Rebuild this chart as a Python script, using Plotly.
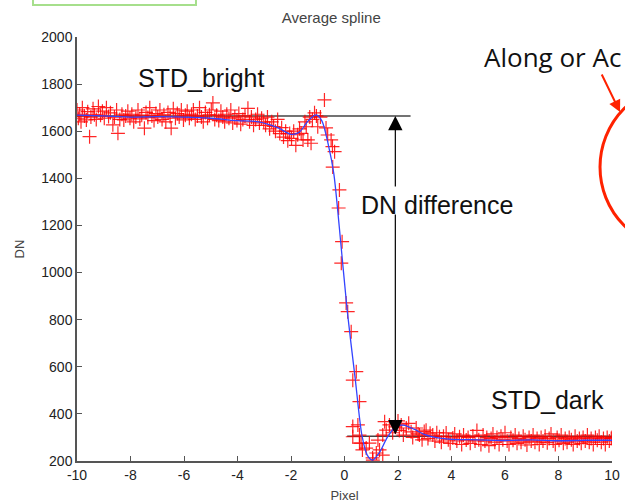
import plotly.graph_objects as go

# ---- data ----
pts_x = [-10.0, -9.95, -9.9, -9.85, -9.8, -9.72, -9.65, -9.6, -9.53, -9.48, -9.4, -9.35, -9.28, -9.2, -9.12, -9.05,
         -8.98, -8.9, -8.82, -8.75, -8.66, -8.6, -8.52, -8.47, -8.4, -8.32, -8.25, -8.18, -8.1, -8.02, -7.95, -7.88,
         -7.8, -7.72, -7.65, -7.58, -7.48, -7.42, -7.35, -7.28, -7.2, -7.12, -7.05, -6.98, -6.9, -6.82, -6.75, -6.68,
         -6.6, -6.52, -6.48, -6.4, -6.32, -6.25, -6.18, -6.1, -6.02, -5.95, -5.88, -5.8, -5.72, -5.65, -5.58, -5.5,
         -5.42, -5.35, -5.28, -5.2, -5.12, -5.05, -4.98, -4.92, -4.85, -4.78, -4.7, -4.62, -4.55, -4.48, -4.4, -4.32,
         -4.25, -4.18, -4.1, -4.02, -3.95, -3.88, -3.8, -3.72, -3.61, -3.55, -3.48, -3.4, -3.32, -3.25, -3.18, -3.1,
         -3.02, -2.95, -2.88, -2.8, -2.72, -2.65, -2.58, -2.5, -2.42, -2.35, -2.28, -2.2, -2.12, -2.05, -1.98, -1.9,
         -1.82, -1.75, -1.68, -1.62, -1.55, -1.48, -1.43, -1.37, -1.3, -1.25, -1.2, -1.12, -1.05, -1.0, -0.9, -0.75,
         -0.69, -0.63, -0.5, -0.45, -0.37, -0.44, -0.19, -0.22, -0.09, -0.12, 0.06, 0.12, 0.25, 0.44, 0.31, 0.56,
         0.5, 0.31, 0.31, 0.56, 0.62, 0.56, 0.67, 0.81, 0.93, 1.05, 1.06, 1.19, 1.31, 1.25, 1.43, 1.43, 1.5, 1.56,
         1.68, 1.8, 1.9, 2.0, 2.05, 2.12, 2.2, 2.31, 2.4, 2.49, 2.55, 2.68, 2.75, 2.8, 2.9, 2.98, 3.05, 3.12, 3.2,
         3.3, 3.38, 3.45, 3.55, 3.62, 3.7, 3.8, 3.88, 3.95, 4.05, 4.12, 4.2, 4.3, 4.38, 4.45, 4.55, 4.62, 4.7, 4.8,
         4.88, 4.95, 5.02, 5.1, 5.18, 5.25, 5.32, 5.4, 5.48, 5.55, 5.62, 5.7, 5.78, 5.85, 5.92, 6.0, 6.08, 6.15,
         6.22, 6.3, 6.38, 6.45, 6.52, 6.6, 6.68, 6.75, 6.82, 6.9, 6.98, 7.05, 7.12, 7.2, 7.28, 7.35, 7.42, 7.5,
         7.58, 7.65, 7.72, 7.8, 7.88, 7.95, 8.02, 8.1, 8.18, 8.25, 8.32, 8.4, 8.48, 8.55, 8.62, 8.7, 8.78, 8.85,
         8.92, 9.0, 9.08, 9.15, 9.22, 9.3, 9.38, 9.45, 9.52, 9.6, 9.68, 9.75, 9.82, 9.9, 9.97, 10.0]
pts_y = [1690, 1655, 1672, 1640, 1700, 1665, 1648, 1683, 1577, 1660, 1695, 1670, 1650, 1705, 1668, 1685,
         1655, 1700, 1662, 1678, 1627, 1660, 1690, 1591, 1650, 1672, 1648, 1665, 1685, 1655, 1672, 1640,
         1660, 1690, 1652, 1668, 1613, 1680, 1658, 1700, 1665, 1645, 1675, 1660, 1690, 1650, 1670, 1640,
         1680, 1662, 1613, 1695, 1655, 1675, 1660, 1690, 1648, 1668, 1685, 1655, 1672, 1690, 1650, 1665,
         1700, 1660, 1640, 1680, 1655, 1670, 1690, 1720, 1650, 1668, 1645, 1685, 1660, 1640, 1672, 1655,
         1690, 1635, 1660, 1645, 1675, 1630, 1650, 1665, 1697, 1640, 1660, 1625, 1650, 1672, 1635, 1655,
         1640, 1625, 1660, 1610, 1640, 1620, 1600, 1650, 1590, 1615, 1575, 1600, 1560, 1590, 1570, 1600,
         1540, 1585, 1610, 1591, 1563, 1640, 1619, 1563, 1660, 1549, 1650, 1678, 1665, 1619, 1660, 1733,
         1614, 1584, 1563, 1535, 1513, 1448, 1351, 1274, 1131, 1040, 871, 834, 749, 579, 543, 452,
         353, 346, 303, 310, 276, 276, 247, 255, 276, 213, 204, 234, 247, 289, 225, 310, 367, 331,
         353, 320, 345, 370, 330, 353, 310, 340, 360, 324, 300, 340, 315, 310, 290, 325, 331, 295, 318,
         310, 285, 320, 303, 280, 305, 319, 290, 275, 298, 315, 285, 303, 270, 310, 289, 300, 275, 306,
         285, 330, 290, 270, 310, 285, 300, 265, 295, 315, 280, 300, 270, 305, 290, 320, 285, 270,
         300, 288, 310, 275, 295, 280, 305, 290, 268, 300, 285, 310, 280, 295, 270, 300, 285, 305,
         278, 295, 315, 285, 270, 300, 288, 310, 275, 295, 280, 300, 290, 270, 305, 285, 295, 275,
         300, 285, 310, 280, 295, 270, 300, 288, 305, 280, 295, 270, 300, 285, 295, 300]

spline_x = [-10, -9, -8, -7, -6, -5, -4, -3.2, -2.5, -2.0, -1.7, -1.35, -1.06, -0.85, -0.6, -0.4, -0.2, 0.1,
            0.4, 0.65, 0.85, 1.05, 1.3, 1.6, 1.9, 2.2, 2.6, 3.0, 3.5, 4, 5, 6, 7, 8, 9, 10]
spline_y = [1668, 1665, 1660, 1662, 1660, 1655, 1645, 1640, 1615, 1587, 1595, 1645, 1669, 1645, 1540, 1420,
            1200, 840, 550, 310, 225, 204, 235, 300, 345, 352, 335, 312, 298, 292, 290, 287, 290, 286, 288, 288]

bright_level = 1665
dark_level = 305
bright_span = [-10, 2.47]
dark_span = [0.1, 10]
arrow_x = 1.9
x_ticks = [-10, -8, -6, -4, -2, 0, 2, 4, 6, 8, 10]
y_ticks = [200, 400, 600, 800, 1000, 1200, 1400, 1600, 1800, 2000]

fig = go.Figure()

# reference levels
fig.add_trace(go.Scatter(x=bright_span, y=[bright_level, bright_level], mode="lines",
                         line=dict(color="#444444", width=1.5), hoverinfo="skip", showlegend=False))
fig.add_trace(go.Scatter(x=dark_span, y=[dark_level, dark_level], mode="lines",
                         line=dict(color="#444444", width=1.5), hoverinfo="skip", showlegend=False))

fig.add_trace(go.Scatter(x=pts_x, y=pts_y, mode="markers",
                         marker=dict(symbol="cross-thin", size=10, color="rgba(255,0,0,0.85)",
                                     line=dict(color="rgba(255,0,0,0.85)", width=1.2)),
                         showlegend=False))
fig.add_trace(go.Scatter(x=spline_x, y=spline_y, mode="lines",
                         line=dict(color="#3344ff", width=1.3, shape="spline", smoothing=0.8),
                         showlegend=False))

font_main = dict(family="Liberation Sans, Arial, sans-serif", size=25, color="#111111")

annotations = [
    dict(x=-5.38, y=1826, xref="x", yref="y", text="STD_bright", showarrow=False, font=font_main),
    dict(x=3.44, y=1287, xref="x", yref="y", text="DN difference", showarrow=False, font=font_main),
    dict(x=7.59, y=457, xref="x", yref="y", text="STD_dark", showarrow=False, font=font_main),
    # double-headed arrow
    dict(x=arrow_x, y=bright_level, ax=arrow_x, ay=1359, xref="x", yref="y", axref="x", ayref="y",
         text="", showarrow=True, arrowhead=2, arrowsize=2.4, arrowwidth=1.2, arrowcolor="#000000"),
    dict(x=arrow_x, y=dark_level + 8, ax=arrow_x, ay=1253, xref="x", yref="y", axref="x", ayref="y",
         text="", showarrow=True, arrowhead=2, arrowsize=2.4, arrowwidth=1.2, arrowcolor="#000000"),
    # overlay text
    dict(x=0.757, y=0.953, xref="paper", yref="paper", xanchor="left", yanchor="middle",
         text="Along or Ac", showarrow=False,
         font=dict(family="Open Sans, Lato, sans-serif", size=26, color="#111111")),
    dict(x=1.0150, y=0.823, xref="paper", yref="paper", ax=-19, ay=-39, text="",
         showarrow=True, arrowhead=2, arrowsize=1.2, arrowwidth=2, arrowcolor="#ff2200"),
]

shapes = [
    dict(type="rect", xref="paper", yref="paper", x0=-0.0822, x1=0.2224, y0=1.0755, y1=1.2,
         line=dict(color="#a6df8c", width=2), fillcolor="white"),
    dict(type="circle", xref="paper", yref="paper", x0=0.9776, x1=1.288, y0=0.4976, y1=0.889,
         line=dict(color="#ff2200", width=3)),
]

fig.update_layout(
    width=625, height=503,
    margin=dict(l=77, r=13, t=37, b=42, autoexpand=False),
    paper_bgcolor="white", plot_bgcolor="white",
    title=dict(text="Average spline", x=0.53, xanchor="center", y=0.965, yanchor="middle",
               font=dict(family="Liberation Sans, Arial, sans-serif", size=15, color="#444444")),
    annotations=annotations,
    shapes=shapes,
    showlegend=False,
)
fig.update_xaxes(range=[-10, 10], tickvals=x_ticks, ticktext=[str(v) for v in x_ticks], automargin=False,
                 showgrid=False, zeroline=False, showline=True, linecolor="#555555", linewidth=1.5,
                 ticks="inside", ticklen=5, tickcolor="#555555",
                 tickfont=dict(family="Liberation Sans, Arial, sans-serif", size=14, color="#222222"),
                 title=dict(text="Pixel", standoff=10,
                            font=dict(family="Liberation Sans, Arial, sans-serif", size=13, color="#444444")))
fig.update_yaxes(range=[200, 2000], tickvals=y_ticks, ticktext=[str(v) for v in y_ticks], automargin=False,
                 showgrid=False, zeroline=False, showline=True, linecolor="#555555", linewidth=1.5,
                 ticks="inside", ticklen=5, tickcolor="#555555",
                 tickfont=dict(family="Liberation Sans, Arial, sans-serif", size=14, color="#222222"),
                 title=dict(text="DN", standoff=14,
                            font=dict(family="Liberation Sans, Arial, sans-serif", size=13, color="#444444")))

fig.write_html("out.html")
